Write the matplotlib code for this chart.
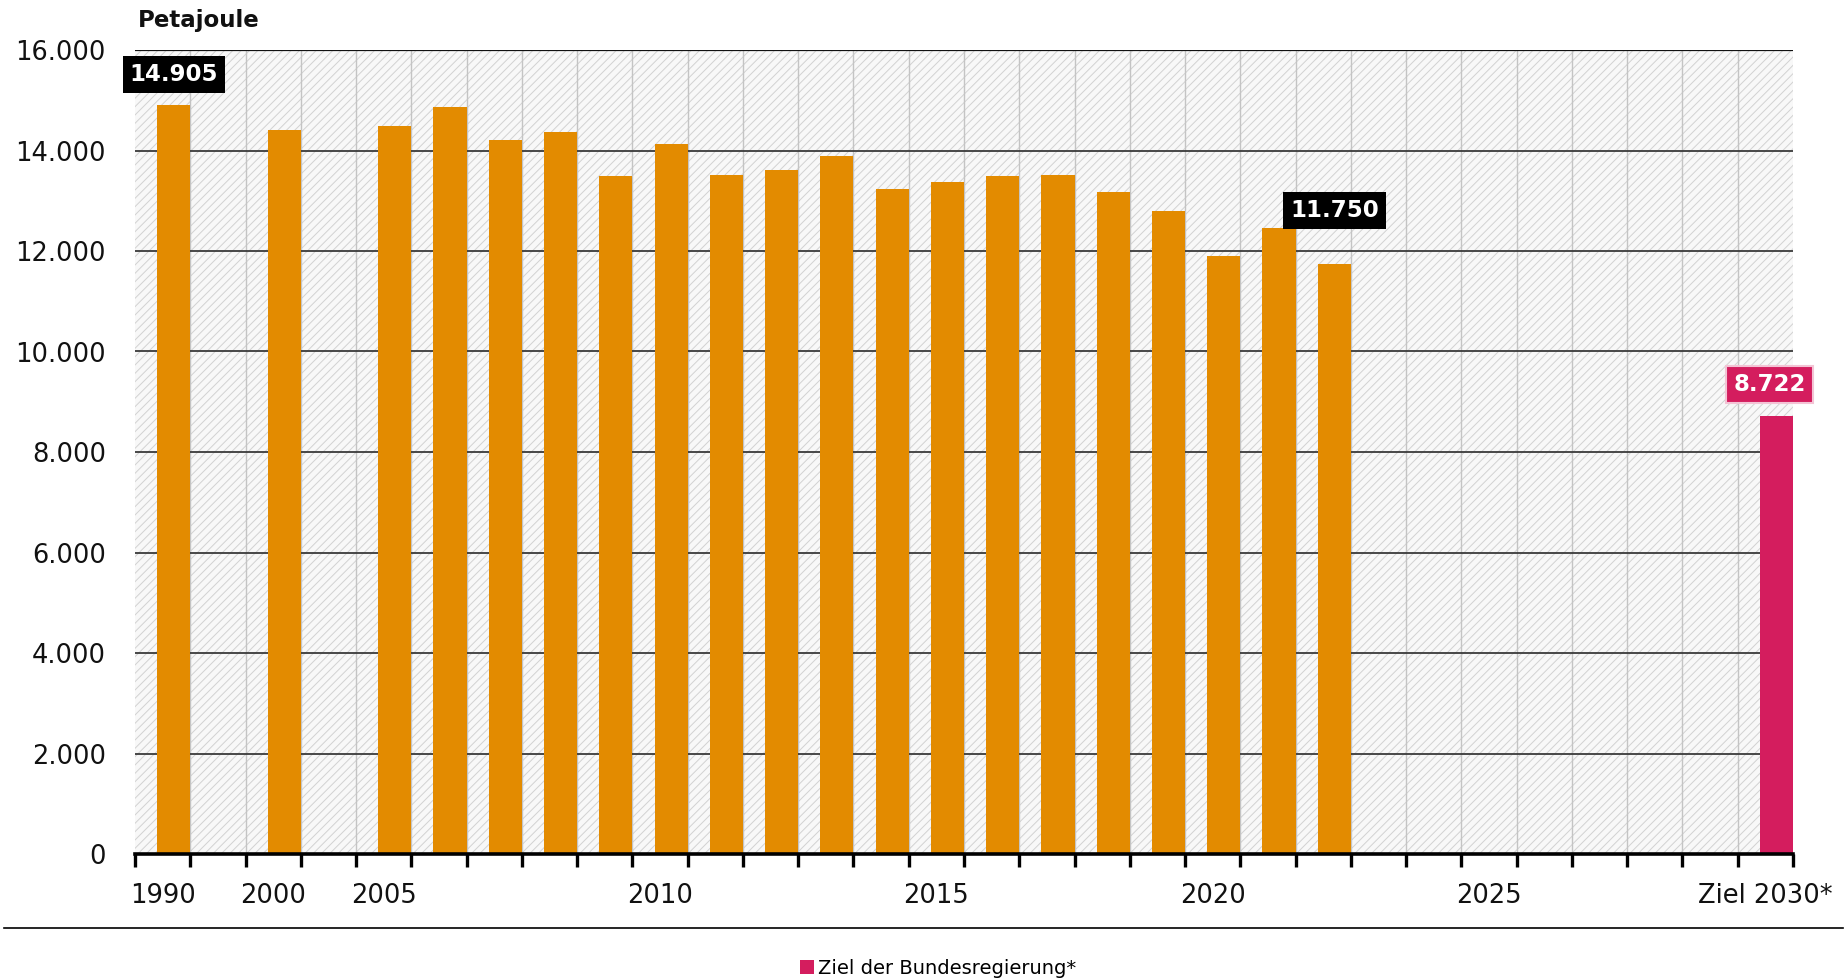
import matplotlib
matplotlib.use("Agg")
import matplotlib.pyplot as plt
import numpy as np
from matplotlib.patches import Rectangle
from matplotlib.lines import Line2D

# ---------------- data ----------------
categories = ['1990', '', '2000', '', '2005', '2006', '2007', '2008', '2009',
              '2010', '2011', '2012', '2013', '2014', '2015', '2016', '2017',
              '2018', '2019', '2020', '2021', '2022', '2023', '2024', '2025',
              '2026', '2027', '2028', '2029', 'Ziel 2030*']
consumption = [14905, None, 14400, None, 14490, 14860, 14200, 14360, 13490,
               14120, 13510, 13610, 13890, 13230, 13370, 13500, 13510,
               13180, 12800, 11910, 12460, 11750, None, None, None,
               None, None, None, None, None]
target = [None] * 29 + [8722]
shown_labels = ['1990', '2000', '2005', '2010', '2015', '2020', '2025', 'Ziel 2030*']
y_ticks = [0, 2000, 4000, 6000, 8000, 10000, 12000, 14000, 16000]
y_ticklabels = ['0', '2.000', '4.000', '6.000', '8.000', '10.000', '12.000', '14.000', '16.000']
highlight = {'1990': '14.905', '2022': '11.750'}
target_label = '8.722'
unit_label = 'Petajoule'
legend_label = 'Ziel der Bundesregierung*'

ORANGE = '#E38B00'
PINK = '#D41D5E'

plt.rcParams['font.family'] = ['DejaVu Sans']
plt.rcParams['hatch.linewidth'] = 0.7

W, H = 1847, 980
fig = plt.figure(figsize=(W / 100, H / 100), dpi=100)
ax = fig.add_axes([135 / W, 1 - 854 / H, (1793 - 135) / W, (854 - 50) / H])

n = len(categories)
x = np.arange(n)
ax.set_xlim(-0.5, n - 0.5)
ax.set_ylim(0, 16000)

# hatched background
bg = Rectangle((0, 0), 1, 1, transform=ax.transAxes, facecolor='#f8f8f8',
               edgecolor='#d2d2d2', hatch='////', linewidth=0, zorder=0)
ax.add_patch(bg)

# grid lines
for b in np.arange(0.5, n - 0.5, 1.0):
    ax.axvline(b, color='#c4c4c4', lw=1.0, zorder=1)
for yv in y_ticks[1:-1]:
    ax.axhline(yv, color='#3a3a3a', lw=1.3, zorder=1)
ax.axhline(y_ticks[-1], color='#111111', lw=1.6, zorder=1)

# bars (right-aligned within the category cell)
xc = np.array([i for i, v in enumerate(consumption) if v is not None])
vc = np.array([v for v in consumption if v is not None])
ax.bar(xc - 0.1, vc, width=0.6, align='edge', color=ORANGE, zorder=3)
xt = np.array([i for i, v in enumerate(target) if v is not None])
vt = np.array([v for v in target if v is not None])
tbars = ax.bar(xt - 0.1, vt, width=0.6, align='edge', color=PINK, zorder=3)

# value boxes
label_offsets = {'1990': (0, 22), '2022': (0, 38)}
for cat, txt in highlight.items():
    i = categories.index(cat)
    ax.annotate(txt, xy=(i + 0.2, consumption[i]), xytext=label_offsets[cat],
                textcoords='offset points', ha='center', va='center',
                color='white', fontsize=16.5, fontweight='bold', zorder=5,
                bbox=dict(boxstyle='square,pad=0.3', fc='black', ec='none'))
ax.annotate(target_label, xy=(xt[0] + 0.2, vt[0]), xytext=(-5, 22.5),
            textcoords='offset points', ha='center', va='center',
            color='white', fontsize=16.5, fontweight='bold', zorder=5,
            bbox=dict(boxstyle='square,pad=0.3', fc=PINK, ec='#f3c4d5', lw=1.5))

# axes styling
for s in ['top', 'right', 'left']:
    ax.spines[s].set_visible(False)
ax.spines['bottom'].set_linewidth(2.6)
ax.spines['bottom'].set_color('black')
ax.spines['bottom'].set_zorder(6)

ax.set_yticks(y_ticks)
ax.set_yticklabels(y_ticklabels)
ax.tick_params(axis='y', length=0, pad=21, labelsize=18.5, labelcolor='#111111')

ax.set_xticks(x)
ax.set_xticklabels([c if c in shown_labels else '' for c in categories])
ax.tick_params(axis='x', which='major', length=0, pad=21, labelsize=18.5,
               labelcolor='#111111')
ax.set_xticks(np.arange(-0.5, n, 1.0), minor=True)
ax.tick_params(axis='x', which='minor', length=9, width=2.4, color='black',
               direction='out')

# unit label
fig.text(138 / W, 1 - 21 / H, unit_label, fontsize=16.5, fontweight='bold',
         ha='left', va='center', color='#111111')

# separator line
fig.add_artist(Line2D([0.002, 0.998], [1 - 928 / H, 1 - 928 / H],
                      transform=fig.transFigure, color='black', lw=1.2))

# legend
fig.legend(handles=[tbars], labels=[legend_label], loc='center',
           bbox_to_anchor=(0.508, 1 - 968 / H), frameon=False,
           handlelength=0.7, handleheight=0.7, handletextpad=0.25,
           fontsize=14, borderpad=0, borderaxespad=0)

fig.savefig('out.png', dpi=100, facecolor='white')
